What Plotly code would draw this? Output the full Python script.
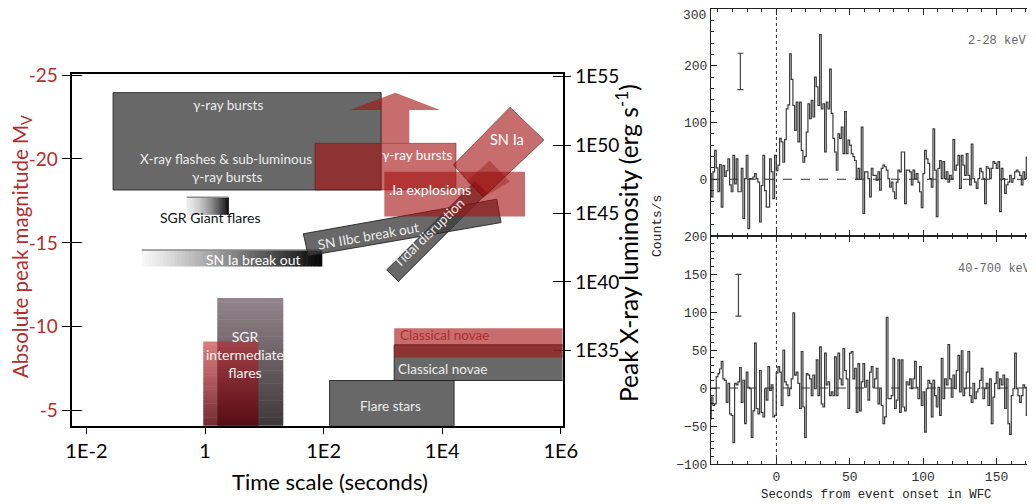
import numpy as np
import plotly.graph_objects as go

# ------------------------------------------------------------------
# LEFT PANEL DATA  (x: log10 time [s], y: absolute magnitude M_V,
# right axis: log10 peak X-ray luminosity [erg/s])
# ------------------------------------------------------------------
time_ticks = [-2, 0, 2, 4, 6]
time_tick_labels = ["1E-2", "1", "1E2", "1E4", "1E6"]
mag_ticks = [-25, -20, -15, -10, -5]
mag_tick_labels = ["-25", "-20", "-15", "-10", "-5"]
lum_ticks = [35, 40, 45, 50, 55]
lum_tick_labels = ["1E35", "1E40", "1E45", "1E50", "1E55"]

# [logt_min, logt_max, mag_faint, mag_bright]
grb_xray_box = [-1.55, 2.97, -18.15, -23.95]
flare_stars_box = [2.10, 4.20, -4.11, -6.80]
novae_xray_box = [3.19, 6.07, -6.80, -8.93]
grb_optical_box = [1.855, 4.233, -18.15, -20.93]
ia_explosions_box = [3.024, 5.396, -16.57, -19.24]
novae_optical_box = [3.19, 6.07, -8.17, -9.92]
sgr_giant_bar = [-0.309, 0.393, -16.67, -17.72]
sn_ia_breakout_bar = [-1.067, 1.968, -13.59, -14.58]
sgr_inter_xray_box = [0.207, 1.320, -4.11, -11.71]
sgr_inter_optical_box = [-0.029, 0.899, -4.11, -9.125]

# rotated regions: corner lists
sn_ia_logt = [5.143, 5.717, 4.693, 4.187]
sn_ia_mag = [-23.08, -21.13, -17.72, -19.64]
sn_ia_core_logt = [4.794, 5.143, 4.693, 4.413]
sn_ia_core_mag = [-19.90, -18.65, -17.72, -18.65]
sn_iibc_logt = [1.658, 4.919, 4.992, 1.742]
sn_iibc_mag = [-15.54, -17.60, -16.21, -14.23]
tidal_logt = [3.064, 3.260, 4.750, 4.555]
tidal_mag = [-13.39, -12.70, -17.96, -18.65]

# optical GRB arrow: shaft, head, apex
arrow_shaft_logt = [2.968, 3.445]
arrow_head_logt = [2.445, 3.963]
arrow_apex_logt = 3.21
arrow_mag = [-20.93, -22.92, -23.95]   # shaft base, head base, apex

# ------------------------------------------------------------------
# RIGHT PANEL DATA (light curves, counts/s)
# ------------------------------------------------------------------
T_START = -45.0
BIN_S = 1.136
counts_2_28 = [
    10, -31, 13, 51, 20, -22, 26, -49, 24, 5, 15, 36, -10, -22, 42, -8, 36, -22, -22, 19,
    -69, 1, 42, -87, 1, 1, 4, 10, 1, -5, -75, -11, 42, -20, -49, -49, 36, 13, -34, 42,
    15, 25, 72, 66, 30, 70, 124, 131, 221, 176, 130, 86, 136, 66, 136, 51, 30, 40, 83, 133,
    107, 139, 110, 180, 163, 130, 255, 124, 133, 48, 136, 124, 194, 116, 72, 48, 16, 80, 72, 92,
    45, 119, 45, 69, 60, 45, 40, 33, 0, 19, 0, 92, -60,
    13, 13, 1, -31, 19, 7, 7, -2, 13, -19,
    19, 25, 22, 16, 1, -14, -5, -22, -34, -5,
    16, 13, 48, 48, -43, 16, 16, 13, -10, 16,
    1, 10, -5, -22, -50, 10, 51, 36, 28, 1,
    -14, 89, 16, -66, 19, 33, 1, 31, 1, 13,
    -5, 7, 1, 70, 16, 25, 42, -16, 42, 25,
    7, 45, 7, -10, 62, 1, -5, -16, 1, 19,
    13, 1, -43, 22, 19, 1, 19, 31, 28, 19,
    31, -57, 19, 1, -25, -10, -5, 7, -5, 1,
    13, 16, 13, 7, -10, 13, 1, 39, -10, -5,
    89, 1,
]
counts_40_700 = [
    -41, -12, -23, -21, 15, 19, 25, 35, 12, 10, -19, 6, -34, -36, -72, 6, 4, 8, 27, -19,
    10, -47, 21, 1, -1, -65, -30, 59, -27, -34, 23, -32, -38, -1, -16, 28, -3, 4, -38, -36,
    20, 28, 21, -23, 50, 8, 4, -10, -1, 12, 99, 17, 21, 6, -27, 48, -25, -65, 19, 17,
    12, -10, 17, -1, 37, -10, 54, -21, -25, 46, 4, 8, -10, -5, -10, 41, -10, 46, 12, 4,
    52, 23, 12, -27, 46, 48, 12, 26, -32, 32, -30, 8, 32,
    1, 10, -16, 21, 28, 1, 12, 26, -21, -1,
    -23, -47, -38, 93, -14, -14, -10, 39, -27, -16,
    37, -32, 37, -25, -30, 8, 4, 12, -1, 12,
    35, 1, -14, 28, -23, -5, -58, -1, 10, 6,
    -38, 10, -10, -25, 1, -36, 39, -14, 12, 4,
    57, 12, -12, 17, -1, 23, 43, -5, 49, -10,
    -1, 21, 48, -10, -19, 6, -14, -5, -1, 10,
    26, -14, -1, 6, -23, 12, -47, -12, 6, 21,
    -1, 12, 4, 17, -27, 12, -47, -61, -10, -1,
    46, -1, -10, -19, -10, 4, 1, -36, -54, 32,
    21, -1,
]
top_ticks = [0, 100, 200, 300]
bottom_ticks = [-100, -50, 0, 50, 100, 150, 200]
errbar_t = [-24.6, -25.9]
errbar_center = [190, 122]
errbar_half = [32, 27.5]

# ------------------------------------------------------------------
# PAGE GEOMETRY (the page body has an 8 px margin)
# ------------------------------------------------------------------
PAGE_OFF = 8
FIG_W, FIG_H = 1035 - PAGE_OFF, 504 - PAGE_OFF


def fx(sx):
    return (sx - PAGE_OFF) / FIG_W


def fy(sy):
    return 1 - (sy - PAGE_OFF) / FIG_H


# ------------------------------------------------------------------
# STYLES
# ------------------------------------------------------------------
GRAY_FILL = "rgba(62,62,62,0.78)"
GRAY_LINE = "rgba(35,35,35,0.9)"
RED_FILL = "rgba(165,20,20,0.62)"
RED_TXT = "rgb(178,45,45)"
BOX_TXT = "#ececec"
LFONT = "Lato"
MONO = "Liberation Mono"

fig = go.Figure()

# ---------------- right panel traces ----------------
t_bins = T_START + BIN_S * np.arange(len(counts_2_28))
t_bins2 = T_START + BIN_S * np.arange(len(counts_40_700))
fig.add_trace(go.Scatter(x=t_bins, y=counts_2_28, mode="lines",
                         line=dict(shape="hvh", color="#3c3c3c", width=1.2),
                         xaxis="x", yaxis="y", hoverinfo="skip"))
fig.add_trace(go.Scatter(x=t_bins2, y=counts_40_700, mode="lines",
                         line=dict(shape="hvh", color="#3c3c3c", width=1.2),
                         xaxis="x2", yaxis="y2", hoverinfo="skip"))
for k, (xa, ya) in enumerate([("x", "y"), ("x2", "y2")]):
    fig.add_trace(go.Scatter(x=[errbar_t[k]], y=[errbar_center[k]], mode="markers",
                             marker=dict(size=1, color="rgba(0,0,0,0)"),
                             error_y=dict(type="data", array=[errbar_half[k]], color="#444",
                                          thickness=1.2, width=3),
                             xaxis=xa, yaxis=ya, hoverinfo="skip"))

# invisible traces to anchor left-panel axes
for ya, yv in [("y3", mag_ticks[0]), ("y4", lum_ticks[0]), ("y5", mag_ticks[0]), ("y6", lum_ticks[0])]:
    fig.add_trace(go.Scatter(x=[time_ticks[1]], y=[yv], mode="markers",
                             marker=dict(opacity=0), xaxis="x3", yaxis=ya, hoverinfo="skip"))

shapes = []


def rect(box, fill, line=None, lw=0):
    return dict(type="rect", xref="x3", yref="y3", x0=box[0], x1=box[1], y0=box[2], y1=box[3],
                fillcolor=fill, line=dict(color=line or "rgba(0,0,0,0)", width=lw), layer="above")


def poly(xs, ys, fill, line=None, lw=0):
    path = "M " + " L ".join(f"{x},{y}" for x, y in zip(xs, ys)) + " Z"
    return dict(type="path", xref="x3", yref="y3", path=path, fillcolor=fill,
                line=dict(color=line or "rgba(0,0,0,0)", width=lw), layer="above")


def mix(c_under, c_over, a):
    return tuple(cu * (1 - a) + co * a for cu, co in zip(c_under, c_over))


# gray (X-ray) regions
shapes.append(rect(grb_xray_box, GRAY_FILL, GRAY_LINE, 1))
# gradient: SGR giant flares
n = 30
x0, x1, yb, yt = sgr_giant_bar
for i in range(n):
    f = (i + 0.5) / n
    v = int(235 - 220 * f ** 1.6)
    shapes.append(rect([x0 + (x1 - x0) * i / n, x0 + (x1 - x0) * (i + 1) / n + 0.01, yb, yt],
                       f"rgb({v},{v},{v})"))
shapes.append(dict(type="line", xref="x3", yref="y3", x0=x0, x1=x1, y0=yt, y1=yt,
                   line=dict(color="#8a8a8a", width=1.5), layer="above"))
# gradient: SN Ia break out
x0, x1, yb, yt = sn_ia_breakout_bar
n = 50
for i in range(n):
    f = (i + 0.5) / n
    v = int(250 - 245 * f ** 1.1)
    shapes.append(rect([x0 + (x1 - x0) * i / n, x0 + (x1 - x0) * (i + 1) / n + 0.01, yb, yt],
                       f"rgb({v},{v},{v})"))
shapes.append(dict(type="line", xref="x3", yref="y3", x0=x0, x1=x1, y0=yt, y1=yt,
                   line=dict(color="#8a8a8a", width=1.5), layer="above"))

# SGR intermediate flares: vertical gradients, composited to opaque colours
WHITE = (255, 255, 255)


def gray_at(f):          # f: 0 top -> 1 bottom of the gray box
    return (148 - 86 * f, 134 - 78 * f, 140 - 82 * f)


def red_at(f):           # colour and opacity of the red box
    return (190 - 100 * f, 40 - 35 * f, 45 - 30 * f), 0.6 + 0.25 * f


n = 30
gx0, gx1, gyb, gyt = sgr_inter_xray_box
for i in range(n):
    f = (i + 0.5) / n
    c = gray_at(f)
    shapes.append(rect([gx0, gx1, gyt + (gyb - gyt) * (i + 1) / n + 0.03, gyt + (gyb - gyt) * i / n],
                       "rgb(%d,%d,%d)" % c))
rx0, rx1, ryb, ryt = sgr_inter_optical_box
for i in range(n):
    f = (i + 0.5) / n
    y_hi = ryt + (ryb - ryt) * i / n
    y_lo = ryt + (ryb - ryt) * (i + 1) / n + 0.03
    rc, a = red_at(f)
    shapes.append(rect([rx0, gx0, y_lo, y_hi], "rgb(%d,%d,%d)" % mix(WHITE, rc, a)))
    fg = ((y_hi + y_lo) / 2 - gyt) / (gyb - gyt)
    shapes.append(rect([gx0, rx1, y_lo, y_hi], "rgb(%d,%d,%d)" % mix(gray_at(fg), rc, a)))

shapes.append(rect(flare_stars_box, GRAY_FILL, GRAY_LINE, 1))
shapes.append(rect(novae_xray_box, GRAY_FILL, GRAY_LINE, 1))
shapes.append(poly(tidal_logt, tidal_mag, GRAY_FILL, GRAY_LINE, 1))
shapes.append(poly(sn_iibc_logt, sn_iibc_mag, GRAY_FILL, GRAY_LINE, 1))

# red (optical) regions
shapes.append(rect(grb_optical_box, RED_FILL, "rgba(90,20,20,0.6)", 0.8))
ax = [arrow_shaft_logt[0], arrow_shaft_logt[0], arrow_head_logt[0], arrow_apex_logt,
      arrow_head_logt[1], arrow_shaft_logt[1], arrow_shaft_logt[1]]
ay = [arrow_mag[0], arrow_mag[1], arrow_mag[1], arrow_mag[2], arrow_mag[1], arrow_mag[1], arrow_mag[0]]
shapes.append(poly(ax, ay, RED_FILL))
shapes.append(rect(ia_explosions_box, RED_FILL))
shapes.append(poly(sn_ia_logt, sn_ia_mag, RED_FILL, "rgba(60,10,10,0.6)", 0.8))
shapes.append(poly(sn_ia_core_logt, sn_ia_core_mag, "rgba(140,10,10,0.35)"))
shapes.append(rect(novae_optical_box, RED_FILL))

# right panel reference lines
for xa, ya in [("x", "y"), ("x2", "y2")]:
    shapes.append(dict(type="line", xref=xa, yref=f"{ya} domain", x0=0, x1=0, y0=0, y1=1,
                       line=dict(color="#333", width=1, dash="dot")))
    shapes.append(dict(type="line", xref=f"{xa} domain", yref=ya, x0=0, x1=1, y0=0, y1=0,
                       line=dict(color="#333", width=1, dash="dash")))

ann = []


def txt(t, x, y, size=13.5, color=BOX_TXT, angle=0, xanchor="center", family=LFONT, xref="x3", yref="y3"):
    ann.append(dict(text=t, x=x, y=y, xref=xref, yref=yref, showarrow=False, textangle=angle,
                    xanchor=xanchor, yanchor="middle", font=dict(family=family, size=size, color=color)))


txt("γ-ray bursts", 0.39, -23.21)
txt("X-ray flashes &amp; sub-luminous", 0.35, -20.0)
txt("γ-ray bursts", 0.37, -18.95)
txt("γ-ray bursts", 3.58, -20.24, color="white")
txt("SN Ia", 5.09, -21.13, size=14.5, color="white")
txt(".Ia explosions", 3.79, -18.15, size=14, color="white")
txt("SN IIbc break out", 2.75, -15.42, angle=-10)
txt("Tidal disruption", 3.77, -15.58, angle=-44)
txt("SGR Giant flares", 0.08, -16.51, size=14, color="#111")
txt("SN Ia break out", 0.82, -13.99, size=14, color="white")
txt("SGR<br>intermediate<br>flares", 0.675, -8.37, size=14, color="#f2f2f2")
txt("Flare stars", 3.13, -5.26, size=13.5)
txt("Classical novae", 3.26, -9.52, size=13.5, color=RED_TXT, xanchor="left")
txt("Classical novae", 3.22, -7.48, size=13.5, xanchor="left")

# axis titles (left panel)
txt("Absolute peak magnitude M<sub>V</sub>", fx(21), fy(247), size=20.5, color=RED_TXT,
    angle=-90, xref="paper", yref="paper")
txt("Peak X-ray luminosity (erg s<sup>-1</sup>)", fx(627), fy(243), size=24.5, color="black",
    angle=-90, xref="paper", yref="paper")
txt("Time scale (seconds)", fx(330), fy(481.7), size=22, color="black",
    xref="paper", yref="paper")
# right panel labels
txt("Counts/s", fx(658), fy(226), size=13, color="#222", angle=-90, family=MONO,
    xref="paper", yref="paper")
txt("Seconds from event onset in WFC", fx(876), fy(495), size=12.4, color="#222",
    family=MONO, xref="paper", yref="paper")
txt("2-28 keV", 150.5, 243, size=12, color="#666", family=MONO, xref="x", yref="y")
txt("40-700 keV", 148.5, 157, size=12, color="#666", family=MONO, xref="x2", yref="y2")
# top-most label of the upper panel sits just under the frame
txt(str(top_ticks[-1]), fx(707.5), fy(16), size=13, color="#333", family=MONO,
    xanchor="right", xref="paper", yref="paper")

XR = [-44.6, 176.2]
ax_common = dict(showgrid=False, zeroline=False, showline=True, linecolor="#222", linewidth=1,
                 ticks="inside", ticklen=6, tickcolor="#222", automargin=False)
mono_font = dict(family=MONO, size=13, color="#333")
left_dom = [fx(72.4), fx(562.6)]
left_ydom = [fy(425.7), fy(74)]
MAG_RANGE = [-4.107, -25.06]
LUM_RANGE = [29.48, 55.2]
lax = dict(showgrid=False, zeroline=False, automargin=False)

fig.update_layout(
    width=FIG_W, height=FIG_H, margin=dict(l=0, r=0, t=0, b=0, pad=0, autoexpand=False),
    template="none", paper_bgcolor="white", plot_bgcolor="white", showlegend=False,
    shapes=shapes, annotations=ann,
    xaxis=dict(domain=[fx(711), 1.0], range=XR, anchor="y", showticklabels=False,
               tick0=0, dtick=50, mirror="ticks",
               minor=dict(tick0=0, dtick=10, ticks="inside", ticklen=3, tickcolor="#222"), **ax_common),
    xaxis2=dict(domain=[fx(711), 1.0], range=XR, anchor="y2", tick0=0, dtick=50, mirror="ticks",
                tickfont=mono_font,
                minor=dict(tick0=0, dtick=10, ticks="inside", ticklen=3, tickcolor="#222"), **ax_common),
    yaxis=dict(domain=[fy(236), fy(9)], range=[-100, 300], anchor="x",
               tickmode="array", tickvals=top_ticks[:-1], tickfont=mono_font,
               minor=dict(tick0=0, dtick=20, ticks="inside", ticklen=3, tickcolor="#222"), **ax_common),
    yaxis2=dict(domain=[fy(464), fy(236)], range=[-100, 200], anchor="x2",
                tickmode="array", tickvals=bottom_ticks, tickfont=mono_font,
                minor=dict(tick0=0, dtick=10, ticks="inside", ticklen=3, tickcolor="#222"), **ax_common),
    xaxis3=dict(domain=left_dom, range=[-2.236, 6.03], anchor="y3", tickmode="array",
                tickvals=time_ticks, ticktext=time_tick_labels, ticks="outside", ticklen=7,
                tickcolor="black", tickwidth=1.3, showline=True, linecolor="black", linewidth=1.5,
                mirror=True, tickfont=dict(family=LFONT, size=20, color="black"), **lax),
    yaxis3=dict(domain=left_ydom, range=MAG_RANGE, anchor="x3", tickmode="array",
                tickvals=mag_ticks, ticktext=mag_tick_labels, ticks="outside", ticklen=9,
                tickcolor="black", tickwidth=1.3, showline=True, linecolor="black", linewidth=1.5,
                tickfont=dict(family=LFONT, size=19, color=RED_TXT), **lax),
    yaxis4=dict(domain=left_ydom, range=LUM_RANGE, anchor="x3", overlaying="y3", side="right",
                tickmode="array", tickvals=lum_ticks, ticktext=lum_tick_labels, ticks="outside",
                ticklen=7, tickcolor="black", tickwidth=1.3, showline=True, linecolor="black",
                linewidth=1.5, tickfont=dict(family=LFONT, size=19, color="black"), **lax),
    yaxis5=dict(domain=left_ydom, range=MAG_RANGE, anchor="x3", overlaying="y3", tickmode="array",
                tickvals=mag_ticks, ticks="inside", ticklen=10, tickcolor="black", tickwidth=1.3,
                showticklabels=False, showline=False, **lax),
    yaxis6=dict(domain=left_ydom, range=LUM_RANGE, anchor="x3", overlaying="y3", side="right",
                tickmode="array", tickvals=lum_ticks, ticks="inside", ticklen=10, tickcolor="black",
                tickwidth=1.3, showticklabels=False, showline=False, **lax),
)

fig.write_html("out.html")
